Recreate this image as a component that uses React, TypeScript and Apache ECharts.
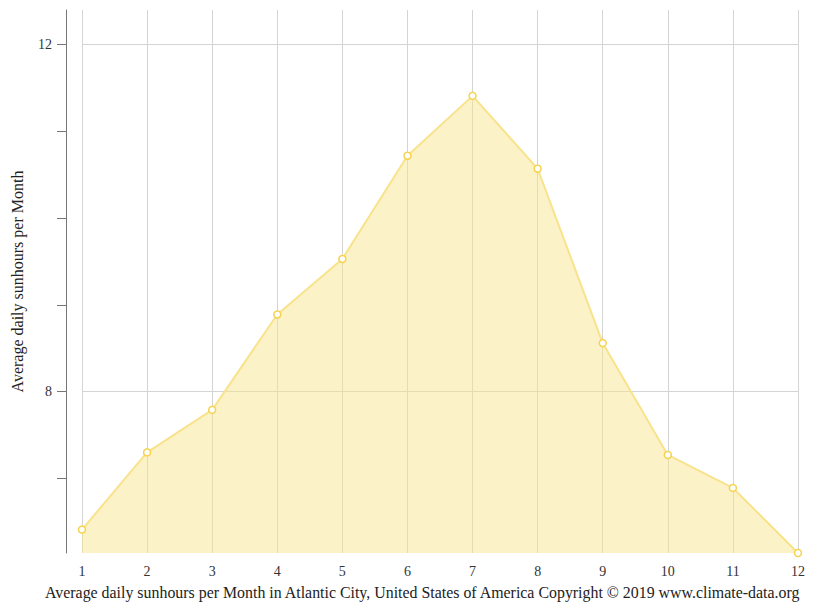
import React, { useEffect, useRef } from "react";
import * as echarts from "echarts";

const months = ["1", "2", "3", "4", "5", "6", "7", "8", "9", "10", "11", "12"];
const sunhours = [6.41, 7.3, 7.79, 8.89, 9.53, 10.72, 11.41, 10.57, 8.56, 7.27, 6.89, 6.14];
const yTickValues = [7, 8, 9, 10, 11, 12];
const yLabelValues = [8, 12];
const yMin = 6.14;
const yMax = 12.4;

export default function App() {
  const ref = useRef<HTMLDivElement>(null);
  useEffect(() => {
    if (!ref.current) return;
    const chart = echarts.init(ref.current, undefined, { renderer: "svg" });
    const font = "'Liberation Serif', 'Times New Roman', serif";
    chart.setOption({
      animation: false,
      textStyle: { fontFamily: font },
      grid: { left: 82, right: 17, top: 10, bottom: 58, containLabel: false },
      title: {
        text: "Average daily sunhours per Month in Atlantic City, United States of America Copyright © 2019 www.climate-data.org",
        left: 45,
        top: 584,
        padding: 0,
        textStyle: { fontFamily: font, fontSize: 15.9, fontWeight: "normal", color: "#222" },
      },
      xAxis: {
        type: "category",
        data: months,
        boundaryGap: false,
        axisLine: { show: false },
        axisTick: { show: false },
        axisLabel: { color: "#333", fontSize: 14, fontFamily: font, margin: 11, interval: 0 },
        splitLine: { show: true, interval: 0, lineStyle: { color: "#d4d4d4", width: 1 } },
      },
      yAxis: [
        {
          type: "value",
          min: yMin,
          max: yMax,
          offset: 16,
          name: "Average daily sunhours per Month",
          nameLocation: "middle",
          nameGap: 41,
          nameTextStyle: { fontFamily: font, fontSize: 16, color: "#222" },
          axisLine: { show: true, lineStyle: { color: "#777", width: 1 } },
          axisTick: { show: true, length: 9, customValues: yTickValues, lineStyle: { color: "#777" } },
          axisLabel: { show: true, customValues: yLabelValues, color: "#333", fontSize: 14, fontFamily: font, margin: 14 },
          splitLine: { show: false },
        },
        {
          type: "value",
          min: yMin,
          max: yMax,
          axisLine: { show: false },
          axisTick: { show: false, customValues: yLabelValues },
          axisLabel: { show: false, customValues: yLabelValues },
          splitLine: { show: true, lineStyle: { color: "#d4d4d4", width: 1 } },
        },
      ],
      series: [
        {
          type: "line",
          data: sunhours,
          yAxisIndex: 0,
          symbol: "circle",
          symbolSize: 7,
          showAllSymbol: true,
          lineStyle: { color: "#f8e38c", width: 2 },
          itemStyle: { color: "#ffffff", borderColor: "#f5d350", borderWidth: 1.5 },
          areaStyle: { color: "rgba(248, 228, 140, 0.7)", origin: "start" },
          emphasis: { disabled: true },
        },
      ],
    });
    return () => chart.dispose();
  }, []);
  return <div ref={ref} style={{ width: 815, height: 611, position: "absolute", left: 0, top: 0 }} />;
}
